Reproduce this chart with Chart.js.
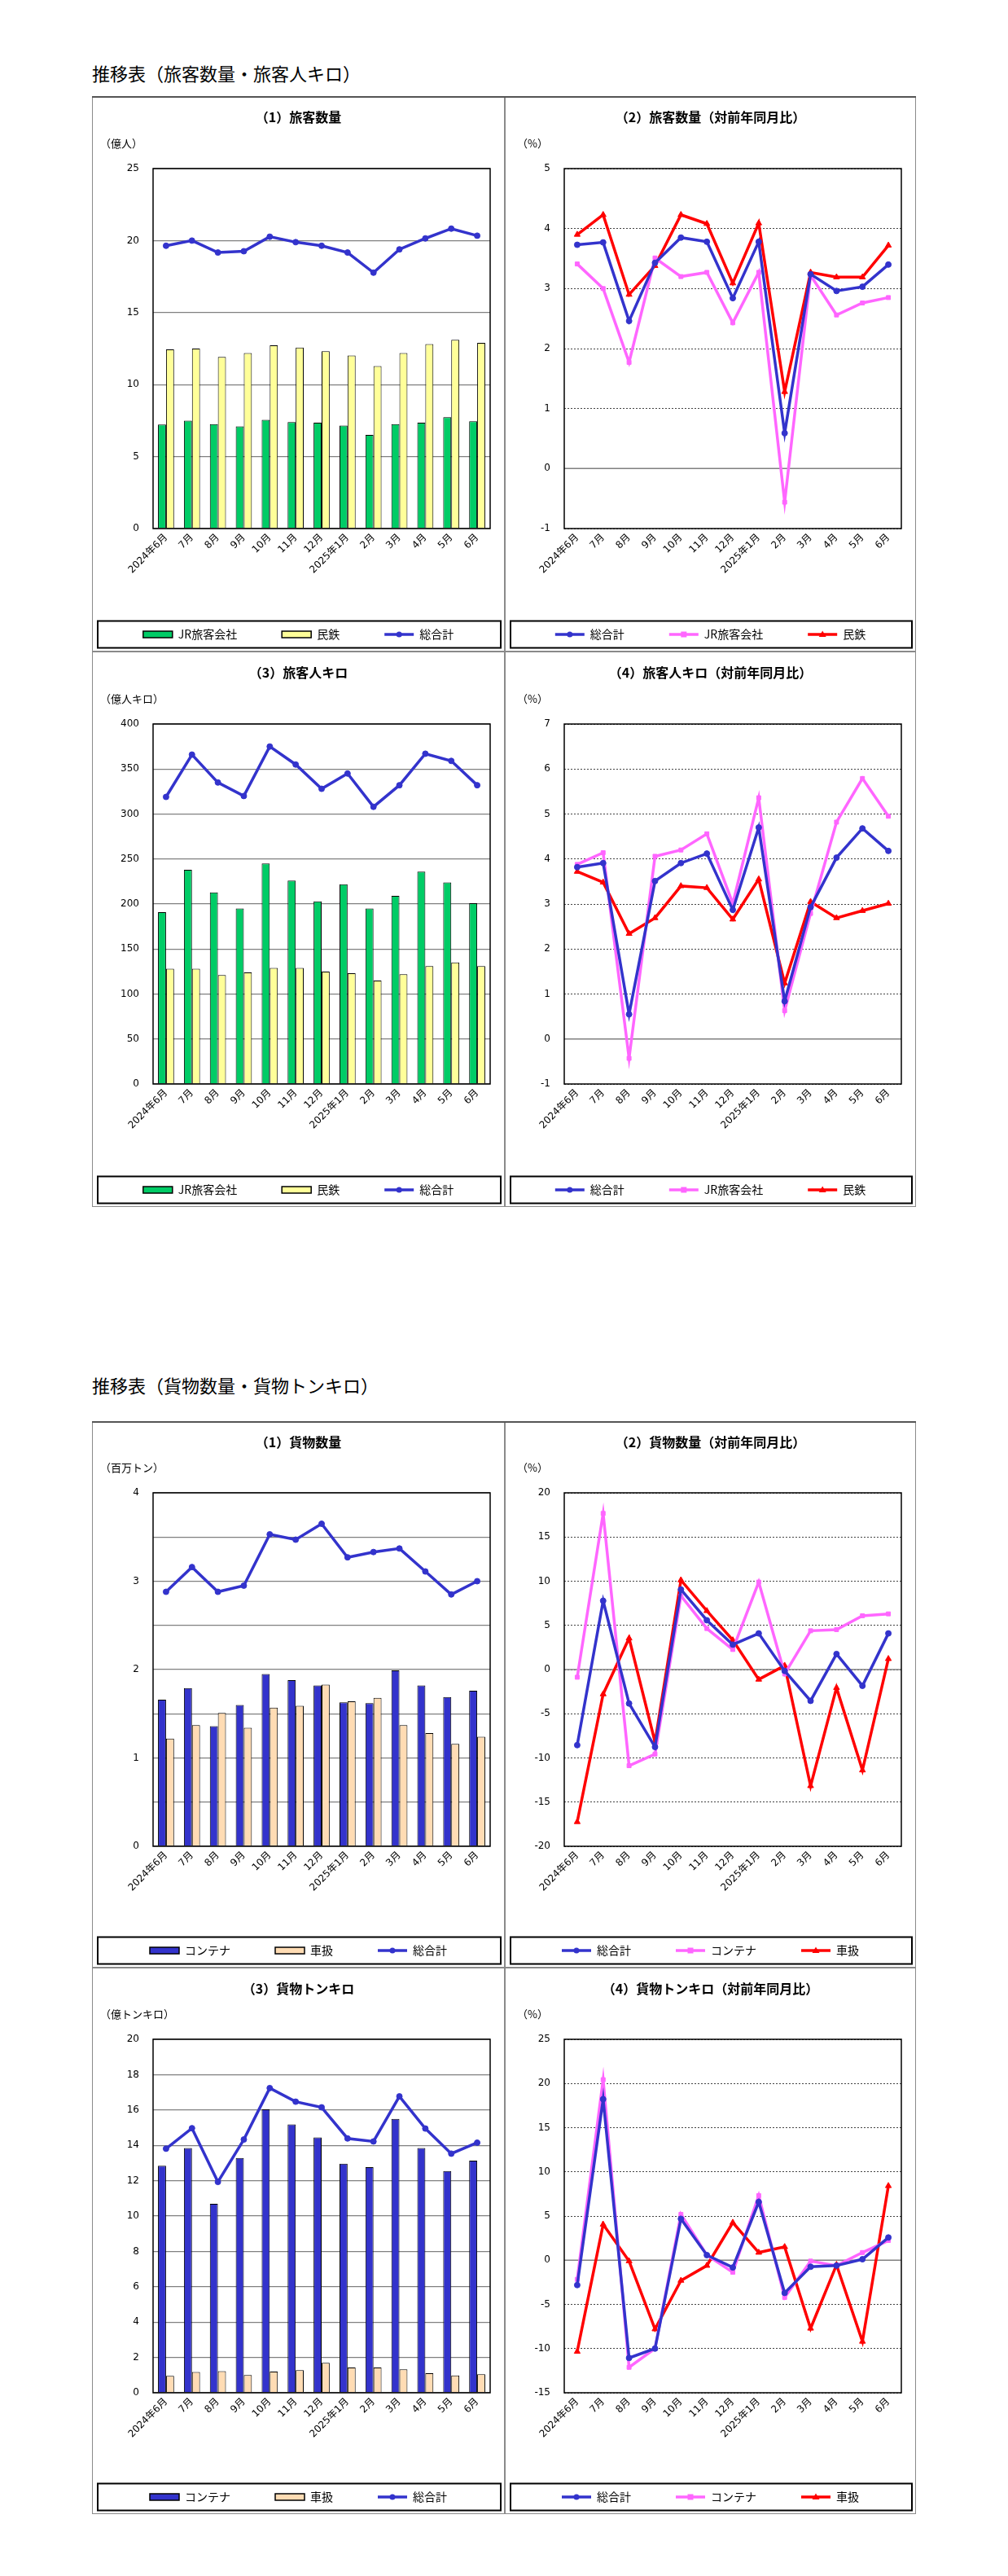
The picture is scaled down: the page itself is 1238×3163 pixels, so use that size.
<!DOCTYPE html>
<html lang="ja">
<head>
<meta charset="utf-8">
<title>推移表</title>
<script src="https://cdn.jsdelivr.net/npm/chart.js@4.4.1/dist/chart.umd.min.js"></script>
<style>
  html, body { margin: 0; padding: 0; background: #fff; }
  #page { position: relative; width: 1238px; height: 3163px; background: #fff; color: #000;
          font-family: 'Noto Sans CJK JP', sans-serif; overflow: hidden; }
  .sec-title { position: absolute; left: 113px; font-size: 22px; line-height: 22px; white-space: nowrap; }
  .cell { position: absolute; box-sizing: border-box; border: 1px solid #8a8a8a; }
  .cell canvas { position: absolute; left: -1px; top: -1px; }
  .cell-title { position: absolute; left: 0; right: 0; text-align: center; font-size: 16px; line-height: 16px;
                font-weight: bold; white-space: nowrap; }
  .unit { position: absolute; font-size: 13px; line-height: 13px; white-space: nowrap; }
  .topline { position: absolute; height: 2px; background: #555; }
</style>
</head>
<body>
<div id="page">
  <div class="sec-title" style="top:78px">推移表（旅客数量・旅客人キロ）</div>
  <div class="sec-title" style="top:1689px">推移表（貨物数量・貨物トンキロ）</div>
</div>
<script>
const months = ['2024年6月', '7月', '8月', '9月', '10月', '11月', '12月', '2025年1月', '2月', '3月', '4月', '5月', '6月'];

// 旅客数量（億人）
const paxJR = [7.23, 7.5, 7.25, 7.1, 7.55, 7.4, 7.36, 7.15, 6.5, 7.25, 7.36, 7.74, 7.45];
const paxPrivate = [12.45, 12.5, 11.92, 12.19, 12.72, 12.57, 12.32, 12.02, 11.28, 12.19, 12.81, 13.11, 12.9];
const paxTotal = [19.64, 20.0, 19.17, 19.26, 20.27, 19.89, 19.64, 19.17, 17.77, 19.39, 20.15, 20.83, 20.34];
// 旅客数量 対前年同月比（%）
const paxYoyTotal = [3.73, 3.77, 2.46, 3.43, 3.85, 3.78, 2.84, 3.78, 0.59, 3.24, 2.96, 3.03, 3.4];
const paxYoyJR = [3.41, 3.0, 1.77, 3.51, 3.2, 3.27, 2.43, 3.27, -0.56, 3.22, 2.56, 2.76, 2.85];
const paxYoyPrivate = [3.9, 4.23, 2.9, 3.38, 4.23, 4.08, 3.09, 4.09, 1.28, 3.27, 3.19, 3.19, 3.72];
// 旅客人キロ（億人キロ）
const pkmJR = [191, 238, 213, 195, 245, 226, 203, 222, 195, 209, 236, 224, 201];
const pkmPrivate = [128, 128, 121, 124, 129, 129, 125, 123, 115, 122, 131, 135, 131];
const pkmTotal = [319, 366, 335, 320, 375, 355, 328, 345, 308, 332, 367, 359, 332];
// 旅客人キロ 対前年同月比（%）
const pkmYoyTotal = [3.82, 3.91, 0.55, 3.51, 3.91, 4.12, 2.87, 4.7, 0.84, 2.93, 4.03, 4.68, 4.18];
const pkmYoyJR = [3.88, 4.14, -0.43, 4.06, 4.2, 4.56, 3.01, 5.36, 0.63, 2.79, 4.82, 5.79, 4.95];
const pkmYoyPrivate = [3.72, 3.48, 2.34, 2.69, 3.4, 3.36, 2.66, 3.55, 1.24, 3.05, 2.69, 2.85, 3.01];

// 貨物数量（百万トン）
const frContainer = [1.66, 1.79, 1.36, 1.6, 1.95, 1.88, 1.82, 1.63, 1.62, 1.99, 1.82, 1.69, 1.76];
const frCar = [1.22, 1.37, 1.51, 1.34, 1.57, 1.59, 1.83, 1.64, 1.68, 1.37, 1.28, 1.16, 1.24];
const frTotal = [2.88, 3.16, 2.88, 2.95, 3.53, 3.47, 3.65, 3.27, 3.33, 3.37, 3.11, 2.85, 3.0];
// 貨物数量 対前年同月比（%）
const frYoyTotal = [-8.55, 7.78, -3.84, -8.76, 9.06, 5.58, 2.82, 4.09, -0.15, -3.54, 1.76, -1.84, 4.09];
const frYoyContainer = [-0.87, 17.67, -10.88, -9.57, 8.34, 4.64, 2.27, 9.9, -0.49, 4.39, 4.52, 6.09, 6.3];
const frYoyCar = [-17.24, -2.78, 3.54, -8.2, 10.12, 6.64, 3.33, -1.12, 0.45, -13.17, -2.06, -11.39, 1.21];
// 貨物トンキロ（億トンキロ）
const tkmContainer = [12.85, 13.85, 10.69, 13.28, 16.04, 15.18, 14.45, 12.96, 12.76, 15.5, 13.85, 12.55, 13.13];
const tkmCar = [0.96, 1.18, 1.22, 1.0, 1.2, 1.28, 1.69, 1.43, 1.43, 1.33, 1.11, 0.98, 1.05];
const tkmTotal = [13.81, 14.97, 11.93, 14.33, 17.24, 16.47, 16.15, 14.39, 14.22, 16.77, 14.95, 13.53, 14.15];
// 貨物トンキロ 対前年同月比（%）
const tkmYoyTotal = [-2.81, 18.23, -11.06, -10.0, 4.68, 0.58, -0.82, 6.59, -3.7, -0.74, -0.61, 0.11, 2.57];
const tkmYoyContainer = [-2.17, 20.43, -12.12, -10.0, 5.19, 0.58, -1.37, 7.31, -4.21, -0.1, -0.61, 0.87, 2.23];
const tkmYoyCar = [-10.34, 4.05, -0.1, -7.8, -2.3, -0.61, 4.26, 0.87, 1.51, -7.72, -0.52, -9.2, 8.41];

// y axis tick labels
const paxQtyTicks = [0, 5, 10, 15, 20, 25];
const paxQtyYoyTicks = [-1, 0, 1, 2, 3, 4, 5];
const pkmTicks = [0, 50, 100, 150, 200, 250, 300, 350, 400];
const pkmYoyTicks = [-1, 0, 1, 2, 3, 4, 5, 6, 7];
const frQtyTicks = [0, 0.5, 1, 1.5, 2, 2.5, 3, 3.5, 4];
const frQtyYoyTicks = [-20, -15, -10, -5, 0, 5, 10, 15, 20];
const tkmTicks = [0, 2, 4, 6, 8, 10, 12, 14, 16, 18, 20];
const tkmYoyTicks = [-15, -10, -5, 0, 5, 10, 15, 20, 25];

const BLUE = '#3333cc', GREEN = '#00cc66', YELLOW = '#ffff99', PINK = '#ff66ff', RED = '#ff0000', PEACH = '#ffdcb4';
const LEG_PAD = 55;

Chart.defaults.font.family = "'DejaVu Sans', 'Noto Sans CJK JP', sans-serif";
Chart.defaults.font.size = 12;
Chart.defaults.color = '#000';

function barSet(label, data, color) {
  return { type: 'bar', label, data, backgroundColor: color, borderColor: '#000', borderWidth: 1,
           categoryPercentage: 0.62, barPercentage: 1.0, order: 1 };
}
function lineSet(label, data, color, pointStyle) {
  return { type: 'line', label, data, borderColor: color, backgroundColor: color, borderWidth: 3.5,
           pointStyle, pointRadius: pointStyle === 'triangle' ? 4.2 : 3.5, pointBorderWidth: 1,
           pointBackgroundColor: color, pointBorderColor: color, tension: 0, fill: false, order: 0 };
}

function drawMarker(ctx, style, x, y, color) {
  ctx.fillStyle = color;
  ctx.beginPath();
  if (style === 'rect') ctx.rect(x - 3.5, y - 3.5, 7, 7);
  else if (style === 'triangle') { ctx.moveTo(x, y - 4.5); ctx.lineTo(x + 4.5, y + 3); ctx.lineTo(x - 4.5, y + 3); ctx.closePath(); }
  else ctx.arc(x, y, 3.5, 0, Math.PI * 2);
  ctx.fill();
}

const framePlugin = {
  id: 'frame',
  beforeDatasetsDraw(chart, args, opts) {
    if (!opts.zeroLine) return;
    const { ctx, chartArea: a } = chart;
    const y = chart.scales.y.getPixelForValue(0);
    ctx.save();
    ctx.strokeStyle = '#808080';
    ctx.lineWidth = 1.5;
    ctx.beginPath(); ctx.moveTo(a.left, y); ctx.lineTo(a.right, y); ctx.stroke();
    ctx.restore();
  },
  afterDraw(chart) {
    const { ctx, chartArea: a } = chart;
    ctx.save();
    ctx.strokeStyle = '#000';
    ctx.lineWidth = 1.5;
    ctx.strokeRect(a.left, a.top, a.right - a.left, a.bottom - a.top);
    // legend frame and line markers
    const lg = chart.legend;
    const cy = lg.top + LEG_PAD + 7;
    ctx.lineWidth = 2;
    ctx.strokeRect(7, cy - 16.5, chart.width - 12, 33);
    lg.legendItems.forEach((it, i) => {
      const ds = chart.data.datasets[it.datasetIndex];
      const hb = lg.legendHitBoxes[i];
      if (ds.type === 'line' && hb) drawMarker(ctx, ds.pointStyle, hb.left + 18, hb.top + 7, ds.borderColor);
    });
    ctx.restore();
  }
};

function buildCell(cell) {
  const page = document.getElementById('page');
  const k = cell.h / 682;
  const div = document.createElement('div');
  div.className = 'cell';
  Object.assign(div.style, { left: cell.x + 'px', top: cell.y + 'px', width: cell.w + 'px', height: cell.h + 'px' });
  const canvas = document.createElement('canvas');
  canvas.width = cell.w;
  canvas.height = cell.h;
  div.appendChild(canvas);
  const t = document.createElement('div');
  t.className = 'cell-title';
  t.style.top = (25 * k - 9) + 'px';
  t.textContent = cell.title;
  div.appendChild(t);
  const u = document.createElement('div');
  u.className = 'unit';
  u.style.top = (57 * k - 7.5) + 'px';
  u.style.left = cell.unitX + 'px';
  u.textContent = cell.unit;
  div.appendChild(u);
  page.appendChild(div);

  const plotTop = Math.round(89 * k);
  const plotBottom = Math.round(531 * k);
  const legH = 14 + LEG_PAD + 10;
  const xH = cell.h - 4 - legH - plotBottom;
  const ticks = cell.ticks;

  new Chart(canvas, {
    type: cell.type,
    data: { labels: months, datasets: cell.datasets },
    options: {
      responsive: false,
      animation: false,
      devicePixelRatio: 1,
      layout: { padding: { top: plotTop, bottom: 4, left: 0, right: 0 } },
      plugins: {
        title: { display: false },
        tooltip: { enabled: false },
        frame: { zeroLine: cell.dotted },
        legend: {
          position: 'bottom',
          labels: {
            usePointStyle: true, pointStyleWidth: 36, boxHeight: 8, padding: LEG_PAD, color: '#000',
            font: { family: "'Noto Sans CJK JP', sans-serif", size: 14 },
            sort: (a, b) => a.datasetIndex - b.datasetIndex,
            generateLabels(chart) {
              const items = Chart.defaults.plugins.legend.labels.generateLabels(chart);
              return items.map(it => {
                const ds = chart.data.datasets[it.datasetIndex];
                const isLine = ds.type === 'line';
                it.pointStyle = isLine ? 'line' : 'rect';
                it.lineWidth = isLine ? 3.5 : 1.5;
                it.strokeStyle = isLine ? ds.borderColor : '#000';
                it.fillStyle = isLine ? ds.borderColor : ds.backgroundColor;
                return it;
              });
            }
          }
        }
      },
      scales: {
        x: {
          type: 'category', offset: true,
          grid: { display: false, drawTicks: false },
          border: { display: false },
          ticks: { autoSkip: false, minRotation: 45, maxRotation: 45, padding: 4, color: '#000', font: { size: 12 } },
          afterFit: s => { s.height = xH; }
        },
        y: {
          type: 'linear', position: 'left',
          min: ticks[0], max: ticks[ticks.length - 1],
          afterBuildTicks: s => { s.ticks = ticks.map(v => ({ value: v })); },
          afterFit: s => { s.width = cell.yW; },
          grid: { color: cell.dotted ? '#444' : '#808080', lineWidth: cell.dotted ? 1 : 1.3, drawTicks: false },
          border: { display: false, dash: cell.dotted ? [2, 2] : [] },
          ticks: { padding: 17, color: '#000', font: { size: 12 },
                   callback: v => (Number.isInteger(v) ? String(v) : '') }
        },
        yr: {
          type: 'linear', position: 'right', display: true,
          grid: { display: false, drawOnChartArea: false },
          border: { display: false },
          ticks: { display: false },
          afterFit: s => { s.width = 18; }
        }
      }
    },
    plugins: [framePlugin]
  });
}

const cells = [
  { x: 113, y: 118, w: 507, h: 682, yW: 75, unitX: 9, type: 'bar', dotted: false,
    title: '（1）旅客数量', unit: '（億人）', ticks: paxQtyTicks,
    datasets: [barSet('JR旅客会社', paxJR, GREEN), barSet('民鉄', paxPrivate, YELLOW), lineSet('総合計', paxTotal, BLUE, 'circle')] },
  { x: 620, y: 118, w: 505, h: 682, yW: 73, unitX: 14, type: 'line', dotted: true,
    title: '（2）旅客数量（対前年同月比）', unit: '（%）', ticks: paxQtyYoyTicks,
    datasets: [lineSet('総合計', paxYoyTotal, BLUE, 'circle'), lineSet('JR旅客会社', paxYoyJR, PINK, 'rect'), lineSet('民鉄', paxYoyPrivate, RED, 'triangle')] },
  { x: 113, y: 800, w: 507, h: 682, yW: 75, unitX: 9, type: 'bar', dotted: false,
    title: '（3）旅客人キロ', unit: '（億人キロ）', ticks: pkmTicks,
    datasets: [barSet('JR旅客会社', pkmJR, GREEN), barSet('民鉄', pkmPrivate, YELLOW), lineSet('総合計', pkmTotal, BLUE, 'circle')] },
  { x: 620, y: 800, w: 505, h: 682, yW: 73, unitX: 14, type: 'line', dotted: true,
    title: '（4）旅客人キロ（対前年同月比）', unit: '（%）', ticks: pkmYoyTicks,
    datasets: [lineSet('総合計', pkmYoyTotal, BLUE, 'circle'), lineSet('JR旅客会社', pkmYoyJR, PINK, 'rect'), lineSet('民鉄', pkmYoyPrivate, RED, 'triangle')] },
  { x: 113, y: 1745, w: 507, h: 671, yW: 75, unitX: 9, type: 'bar', dotted: false,
    title: '（1）貨物数量', unit: '（百万トン）', ticks: frQtyTicks,
    datasets: [barSet('コンテナ', frContainer, BLUE), barSet('車扱', frCar, PEACH), lineSet('総合計', frTotal, BLUE, 'circle')] },
  { x: 620, y: 1745, w: 505, h: 671, yW: 73, unitX: 14, type: 'line', dotted: true,
    title: '（2）貨物数量（対前年同月比）', unit: '（%）', ticks: frQtyYoyTicks,
    datasets: [lineSet('総合計', frYoyTotal, BLUE, 'circle'), lineSet('コンテナ', frYoyContainer, PINK, 'rect'), lineSet('車扱', frYoyCar, RED, 'triangle')] },
  { x: 113, y: 2416, w: 507, h: 671, yW: 75, unitX: 9, type: 'bar', dotted: false,
    title: '（3）貨物トンキロ', unit: '（億トンキロ）', ticks: tkmTicks,
    datasets: [barSet('コンテナ', tkmContainer, BLUE), barSet('車扱', tkmCar, PEACH), lineSet('総合計', tkmTotal, BLUE, 'circle')] },
  { x: 620, y: 2416, w: 505, h: 671, yW: 73, unitX: 14, type: 'line', dotted: true,
    title: '（4）貨物トンキロ（対前年同月比）', unit: '（%）', ticks: tkmYoyTicks,
    datasets: [lineSet('総合計', tkmYoyTotal, BLUE, 'circle'), lineSet('コンテナ', tkmYoyContainer, PINK, 'rect'), lineSet('車扱', tkmYoyCar, RED, 'triangle')] }
];

cells.forEach(buildCell);

// darker top edge of each table
[118, 1745].forEach(top => {
  const d = document.createElement('div');
  d.className = 'topline';
  Object.assign(d.style, { left: '113px', top: top + 'px', width: '1012px' });
  document.getElementById('page').appendChild(d);
});
</script>
</body>
</html>
